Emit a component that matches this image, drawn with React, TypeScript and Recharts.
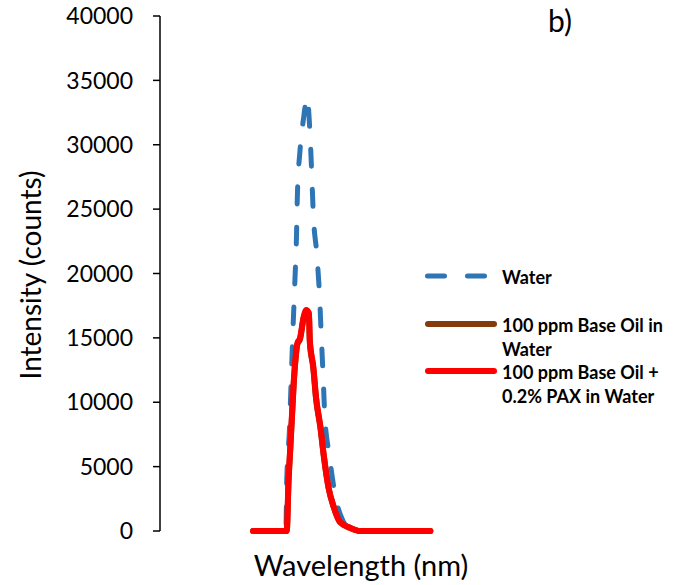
import { LineChart, Line, XAxis, YAxis, Legend } from "recharts";

// wavelength (nm) / intensity (counts)
const waterNm = [300, 337, 338, 341, 343, 345, 347, 349, 350, 353, 357, 361, 364, 366, 368, 372, 375, 377, 379, 381, 386, 393, 401, 410, 427, 500];
const waterCounts = [0, 0, 3960, 7840, 11730, 15610, 19110, 22990, 26100, 29590, 32080, 33700, 31150, 28040, 24540, 21440, 18250, 15070, 12040, 8850, 5900, 2640, 850, 160, 0, 0];

const oilNm = [300, 338, 340, 342, 344, 346, 348, 350, 353, 357, 360, 363, 364, 368, 371, 376, 380, 385, 391, 398, 410, 421, 500];
const oilCounts = [0, 0, 3800, 6400, 9000, 11600, 13400, 14500, 14900, 16500, 17050, 16800, 14700, 12600, 10300, 8000, 5700, 3400, 1850, 700, 230, 0, 0];
const paxCounts = [0, 0, 3960, 6520, 9170, 11730, 13510, 14600, 14990, 16620, 17170, 16930, 14830, 12740, 10410, 8080, 5750, 3420, 1860, 700, 230, 0, 0];

const yTicks = [0, 5000, 10000, 15000, 20000, 25000, 30000, 35000, 40000];

const seriesNames = ["Water", "100 ppm Base Oil in Water", "100 ppm Base Oil + 0.2% PAX in Water"];
const seriesColors = ["#2E75B6", "#843C0C", "#FF0000"];

const toPoints = (nm: number[], counts: number[]) =>
  nm.map((w, i) => ({ nm: w, counts: counts[i] }));

const waterData = toPoints(waterNm, waterCounts);
const oilData = toPoints(oilNm, oilCounts);
const paxData = toPoints(oilNm, paxCounts);

const FONT = "Lato, 'Open Sans', sans-serif";

function LegendBox() {
  const rowTops = [3, 51, 98];
  return (
    <div style={{ position: "relative", width: 255, height: 150, fontFamily: FONT }}>
      {seriesNames.map((name, i) => (
        <div
          key={name}
          style={{ position: "absolute", left: 0, top: rowTops[i], display: "flex", alignItems: "flex-start" }}
        >
          <svg width={77} height={22} style={{ flex: "none" }}>
            {i === 0 ? (
              <line x1={2.5} y1={11} x2={62} y2={11} stroke={seriesColors[i]} strokeWidth={5}
                strokeLinecap="round" strokeDasharray="17 23" />
            ) : (
              <line x1={3} y1={11} x2={69} y2={11} stroke={seriesColors[i]} strokeWidth={6}
                strokeLinecap="round" />
            )}
          </svg>
          <div style={{ width: 178, fontSize: 18, fontWeight: 700, lineHeight: "24px", color: "#000" }}>
            {name}
          </div>
        </div>
      ))}
    </div>
  );
}

export default function App() {
  return (
    <div style={{ position: "absolute", left: 0, top: 0, width: 680, height: 585, background: "#fff" }}>
      <LineChart width={680} height={585} margin={{ top: 16, right: 161, bottom: 0, left: 0 }}>
        <XAxis
          type="number"
          dataKey="nm"
          domain={[195, 600]}
          tick={false}
          tickLine={false}
          axisLine={false}
          height={54}
          label={{
            content: () => (
              <text x={361} y={576} textAnchor="middle" fontSize={29} fontFamily={FONT} fill="#000">
                Wavelength (nm)
              </text>
            ),
          }}
        />
        <YAxis
          width={160}
          domain={[0, 40000]}
          ticks={yTicks}
          interval={0}
          axisLine={{ stroke: "#000", strokeWidth: 1.5 }}
          tickLine={{ stroke: "#000", strokeWidth: 1.5 }}
          tickSize={7}
          tickMargin={20}
          tick={{ fill: "#000", fontSize: 23, fontFamily: FONT }}
          label={{
            content: () => (
              <text x={41} y={275} transform="rotate(-90 41 275)" textAnchor="middle"
                fontSize={28} fontFamily={FONT} fill="#000">
                Intensity (counts)
              </text>
            ),
          }}
        />
        <Legend
          layout="vertical"
          align="center"
          verticalAlign="middle"
          wrapperStyle={{ left: 425, top: 262, width: 255 }}
          content={() => <LegendBox />}
        />
        <Line
          data={waterData}
          dataKey="counts"
          name={seriesNames[0]}
          type="monotone"
          stroke={seriesColors[0]}
          strokeWidth={5}
          strokeDasharray="17 23"
          strokeLinecap="round"
          dot={false}
          activeDot={false}
          isAnimationActive={false}
        />
        <Line
          data={oilData}
          dataKey="counts"
          name={seriesNames[1]}
          type="monotone"
          stroke={seriesColors[1]}
          strokeWidth={6}
          strokeLinecap="round"
          strokeLinejoin="round"
          dot={false}
          activeDot={false}
          isAnimationActive={false}
        />
        <Line
          data={paxData}
          dataKey="counts"
          name={seriesNames[2]}
          type="monotone"
          stroke={seriesColors[2]}
          strokeWidth={6}
          strokeLinecap="round"
          strokeLinejoin="round"
          dot={false}
          activeDot={false}
          isAnimationActive={false}
        />
      </LineChart>
      <div
        style={{ position: "absolute", left: 548, top: 2, fontFamily: FONT, fontSize: 30, lineHeight: "36px", color: "#000" }}
      >
        b)
      </div>
    </div>
  );
}
